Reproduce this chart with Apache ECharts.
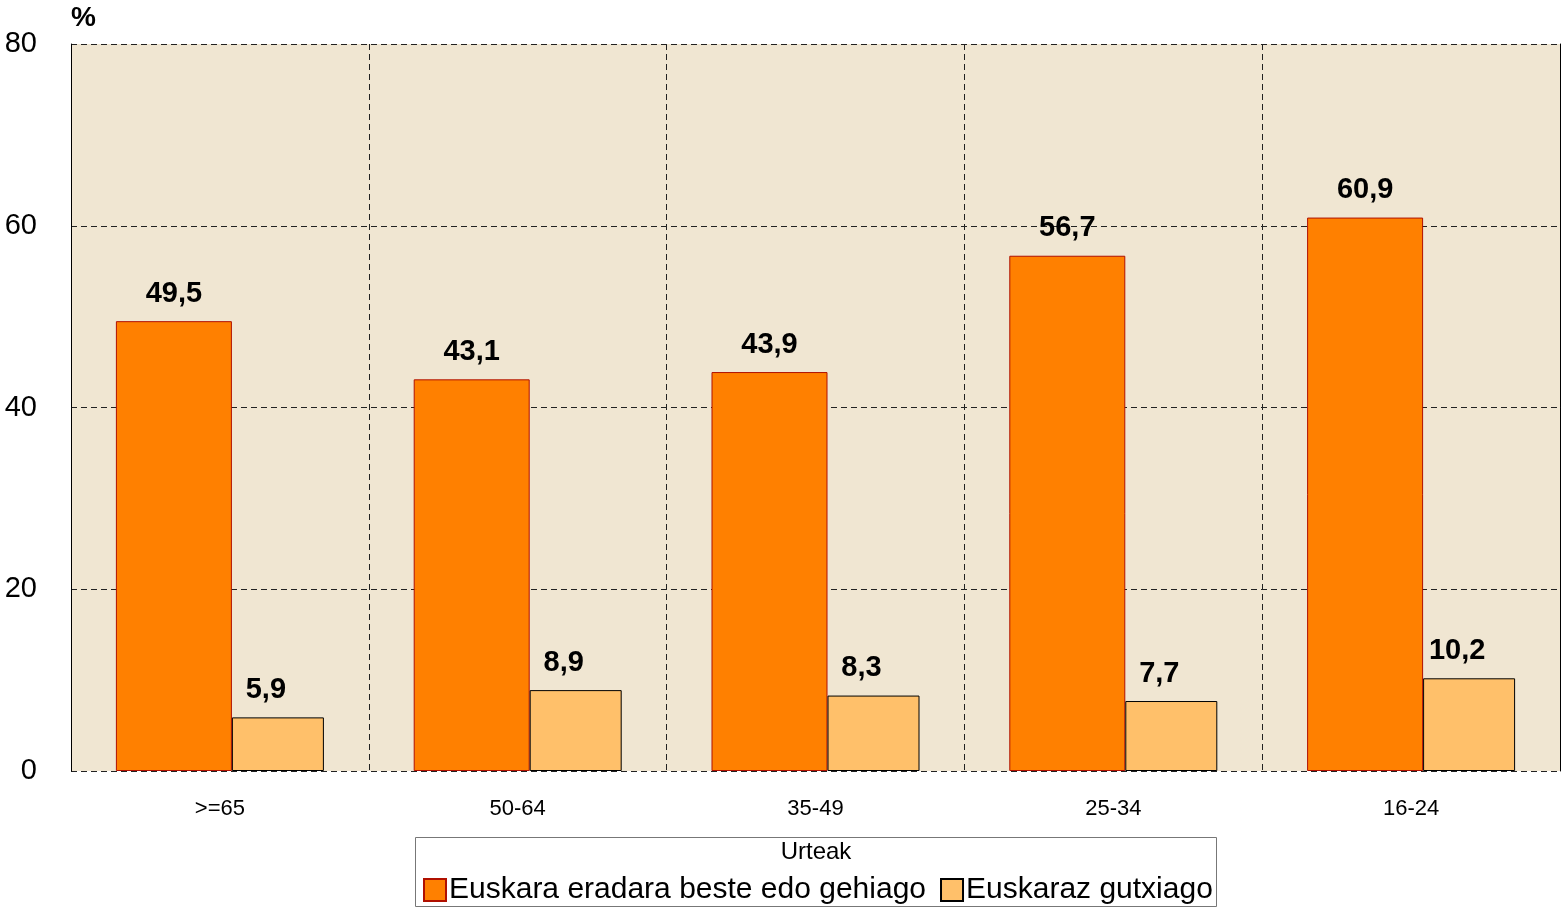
<!DOCTYPE html>
<html>
<head>
<meta charset="utf-8">
<script src="https://cdn.jsdelivr.net/npm/echarts@6/dist/echarts.min.js"></script>
<style>
  html, body { margin: 0; padding: 0; background: #fff; }
  #chart { width: 1563px; height: 908px; }
</style>
</head>
<body>
<div id="chart"></div>
<script>
const categories = ['>=65', '50-64', '35-49', '25-34', '16-24'];
const seriesNames = ['Euskara eradara beste edo gehiago', 'Euskaraz gutxiago'];
const moreValues = [49.5, 43.1, 43.9, 56.7, 60.9];
const lessValues = [5.9, 8.9, 8.3, 7.7, 10.2];
const yTicks = [0, 20, 40, 60, 80];

const FONT = '"Liberation Sans", Arial, sans-serif';
const chart = echarts.init(document.getElementById('chart'));

const label = {
  show: true,
  position: 'top',
  distance: 13,
  color: '#000',
  fontFamily: FONT,
  fontWeight: 'bold',
  fontSize: 29,
  formatter: p => String(p.value).replace('.', ',')
};

chart.setOption({
  animation: false,
  textStyle: { fontFamily: FONT },
  grid: {
    left: 71, right: 3, top: 44, bottom: 137,
    show: true,
    backgroundColor: '#F0E6D2',
    borderWidth: 0
  },
  graphic: [
    {
      type: 'rect',
      shape: { x: 415.5, y: 837.5, width: 801, height: 69 },
      style: { fill: 'none', stroke: '#777', lineWidth: 1 },
      z: 0
    },
    {
      type: 'text',
      x: 816, y: 852,
      style: { text: 'Urteak', font: '24px ' + FONT, fill: '#000', align: 'center', verticalAlign: 'middle' }
    }
  ],
  legend: {
    left: 418,
    top: 870,
    itemWidth: 22,
    itemHeight: 22,
    itemGap: 14,
    icon: 'rect',
    textStyle: { fontSize: 30, color: '#000', fontFamily: FONT, padding: [0, 0, 0, -2] },
    data: seriesNames
  },
  xAxis: {
    type: 'category',
    data: categories,
    axisLine: { show: false },
    axisTick: { show: false },
    axisLabel: { color: '#000', fontSize: 22, margin: 27 },
    splitLine: { show: true, lineStyle: { color: '#222', type: [6, 4], width: 1 } }
  },
  yAxis: [
    {
      type: 'value',
      min: yTicks[0],
      max: yTicks[yTicks.length - 1],
      interval: 20,
      name: '%',
      nameLocation: 'end',
      nameGap: 12,
      nameTextStyle: { color: '#000', fontWeight: 'bold', fontSize: 28, align: 'left' },
      axisLine: { show: true, lineStyle: { color: '#000', width: 1 } },
      axisTick: { show: false },
      axisLabel: { color: '#000', fontSize: 29, margin: 34 },
      splitLine: { show: true, lineStyle: { color: '#222', type: [6, 4], width: 1 } }
    },
    {
      type: 'value',
      position: 'right',
      min: 0, max: 80, interval: 20,
      axisLine: { show: true, lineStyle: { color: '#000', width: 1 } },
      axisTick: { show: false },
      axisLabel: { show: false },
      splitLine: { show: false }
    }
  ],
  series: [
    {
      name: seriesNames[0],
      type: 'bar',
      data: moreValues,
      barWidth: 116,
      barGap: '0%',
      itemStyle: { color: '#FF8000', borderColor: '#B01000', borderWidth: 1 },
      label: label
    },
    {
      name: seriesNames[1],
      type: 'bar',
      data: lessValues,
      barWidth: 92,
      barGap: '0%',
      itemStyle: { color: '#FFC06A', borderColor: '#000', borderWidth: 1 },
      label: Object.assign({}, label, { offset: [-12, 0] })
    }
  ]
});
</script>
</body>
</html>
